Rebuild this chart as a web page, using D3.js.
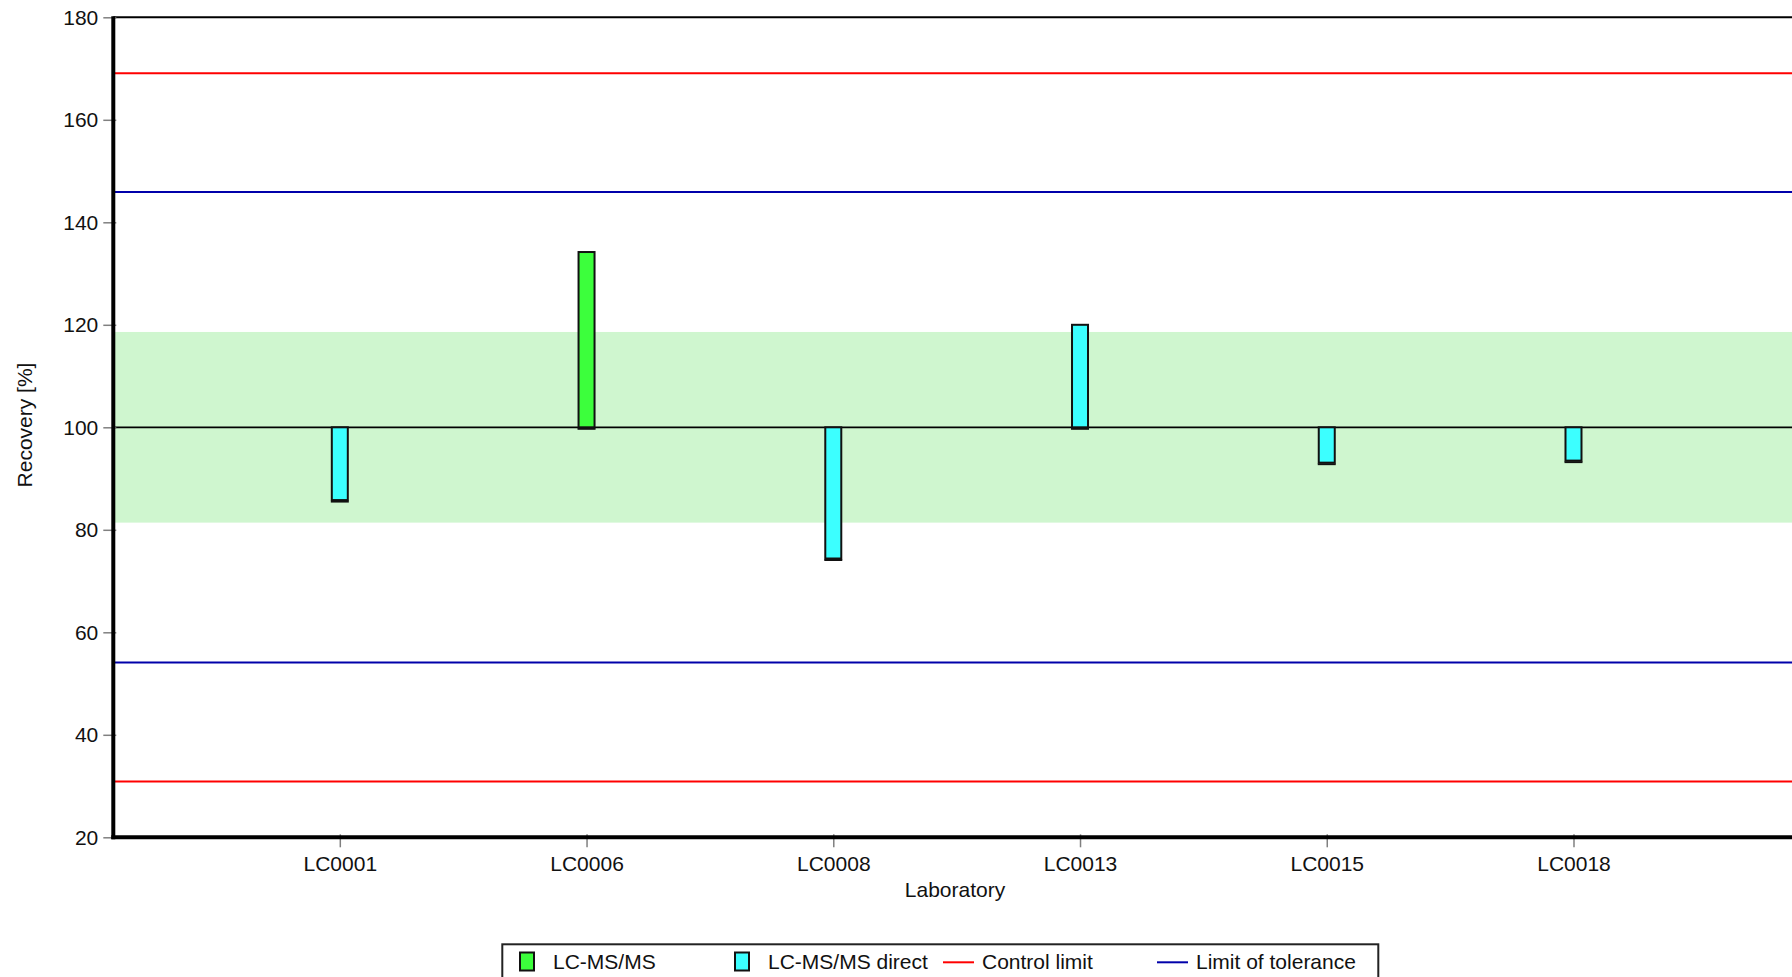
<!DOCTYPE html>
<html>
<head>
<meta charset="utf-8">
<script src="https://d3js.org/d3.v7.min.js"></script>
<style>
    body { margin: 0; background: #fff; }
    svg { display: block; font-family: "Liberation Sans", Arial, sans-serif; }
</style>
</head>
<body>
<div id="chart"></div>
<script>
// values
let labs     = ["LC0001", "LC0006", "LC0008", "LC0013", "LC0015", "LC0018"];
let methods  = ["LC-MS/MS direct", "LC-MS/MS", "LC-MS/MS direct", "LC-MS/MS direct", "LC-MS/MS direct", "LC-MS/MS direct"];
let recovery = [85.8, 134.2, 74.4, 120.0, 93.1, 93.5];

let yTicks         = [20, 40, 60, 80, 100, 120, 140, 160, 180];
let assignedValue  = 100;
let toleranceBand  = [81.4, 118.6];
let limitTolerance = [54.1, 145.9];
let controlLimit   = [30.9, 169.1];

let legendItems = [
    {label: "LC-MS/MS",           type: "box",  color: "#3cff3c"},
    {label: "LC-MS/MS direct",    type: "box",  color: "#3cffff"},
    {label: "Control limit",      type: "line", color: "#ff0000"},
    {label: "Limit of tolerance", type: "line", color: "#0000aa"}
];

let width  = 1792;
let height = 977;
let margin = {top: 17.3, left: 113.3, right: 1800, bottom: 837.3};

let svg = d3.select("#chart")
    .append("svg")
    .attr("width", width)
    .attr("height", height);

let x = d3.scalePoint()
    .domain(labs)
    .range([margin.left, margin.right])
    .padding(0.918);

let y = d3.scaleLinear()
    .domain([20, 180])
    .range([margin.bottom, margin.top]);

let methodColor = d3.scaleOrdinal()
    .domain(["LC-MS/MS", "LC-MS/MS direct"])
    .range(["#3cff3c", "#3cffff"]);

// green tolerance band
svg.append("rect")
    .attr("x", margin.left)
    .attr("y", y(toleranceBand[1]))
    .attr("width", margin.right - margin.left)
    .attr("height", y(toleranceBand[0]) - y(toleranceBand[1]))
    .style("fill", "#cff6cf");

// top frame line
svg.append("line")
    .attr("x1", margin.left).attr("x2", margin.right)
    .attr("y1", y(180)).attr("y2", y(180))
    .style("stroke", "#000").style("stroke-width", 2);

function hLine(v, color, w) {
    svg.append("line")
        .attr("x1", margin.left).attr("x2", margin.right)
        .attr("y1", y(v)).attr("y2", y(v))
        .style("stroke", color)
        .style("stroke-width", w);
}

controlLimit.forEach(v => hLine(v, "#ff0000", 2));
limitTolerance.forEach(v => hLine(v, "#0000aa", 2));
hLine(assignedValue, "#000", 1.8);

// bars from 100 to each recovery
let barW = 16;
let bars = svg.append("g");
labs.forEach((lab, i) => {
    let v   = recovery[i];
    let top = y(Math.max(v, assignedValue));
    let bot = y(Math.min(v, assignedValue));
    bars.append("rect")
        .attr("x", x(lab) - barW / 2)
        .attr("y", top)
        .attr("width", barW)
        .attr("height", bot - top)
        .style("fill", methodColor(methods[i]))
        .style("stroke", "#111")
        .style("stroke-width", 2);
    // slightly heavier bottom edge as in the original
    bars.append("line")
        .attr("x1", x(lab) - barW / 2 - 1).attr("x2", x(lab) + barW / 2 + 1)
        .attr("y1", bot + 1.5).attr("y2", bot + 1.5)
        .style("stroke", "#111")
        .style("stroke-width", 2);
});

let fontSize = "21px";

// y axis
let yAxis = svg.append("g")
    .attr("transform", "translate(" + (margin.left + 3) + ",0)")
    .call(d3.axisLeft(y).tickValues(yTicks).tickSize(13).tickPadding(5));
yAxis.select(".domain").remove();
yAxis.selectAll(".tick line").style("stroke", "#808080").style("stroke-width", 1.5);
yAxis.selectAll(".tick text")
    .style("font-size", fontSize)
    .style("font-family", "Liberation Sans, Arial, sans-serif")
    .style("fill", "#111");

// x axis
let xAxis = svg.append("g")
    .attr("transform", "translate(0," + (margin.bottom - 3) + ")")
    .call(d3.axisBottom(x).tickSize(13).tickPadding(9));
xAxis.select(".domain").remove();
xAxis.selectAll(".tick line").style("stroke", "#808080").style("stroke-width", 1.5);
xAxis.selectAll(".tick text")
    .style("font-size", fontSize)
    .style("font-family", "Liberation Sans, Arial, sans-serif")
    .style("fill", "#111");

// thick axis lines
svg.append("line")
    .attr("x1", margin.left).attr("x2", margin.left)
    .attr("y1", y(180) - 1).attr("y2", margin.bottom + 2)
    .style("stroke", "#000").style("stroke-width", 4);
svg.append("line")
    .attr("x1", margin.left - 2).attr("x2", margin.right)
    .attr("y1", margin.bottom).attr("y2", margin.bottom)
    .style("stroke", "#000").style("stroke-width", 4);

// axis labels
let labelStyle = "font-size: " + fontSize + "; fill: #111;";
svg.append("text")
    .attr("text-anchor", "middle")
    .attr("style", labelStyle)
    .attr("x", 955)
    .attr("y", 897)
    .text("Laboratory");

svg.append("text")
    .attr("text-anchor", "middle")
    .attr("style", labelStyle)
    .attr("transform", "translate(32,425) rotate(-90)")
    .text("Recovery [%]");

// legend
let legend = svg.append("g");
legend.append("rect")
    .attr("x", 502.3)
    .attr("y", 944.3)
    .attr("width", 876)
    .attr("height", 50)
    .style("fill", "#fff")
    .style("stroke", "#222")
    .style("stroke-width", 2);

let legendX = [520, 735, 943, 1157];
legendItems.forEach((d, i) => {
    let lx = legendX[i];
    let tx;
    if (d.type === "box") {
        legend.append("rect")
            .attr("x", lx).attr("y", 952.5)
            .attr("width", 14).attr("height", 18)
            .style("fill", d.color)
            .style("stroke", "#111")
            .style("stroke-width", 2);
        tx = lx + 33;
    } else {
        legend.append("line")
            .attr("x1", lx).attr("x2", lx + 31)
            .attr("y1", 962.3).attr("y2", 962.3)
            .style("stroke", d.color)
            .style("stroke-width", 2);
        tx = lx + 39;
    }
    legend.append("text")
        .attr("x", tx)
        .attr("y", 968.5)
        .attr("style", labelStyle)
        .text(d.label);
});
</script>
</body>
</html>
